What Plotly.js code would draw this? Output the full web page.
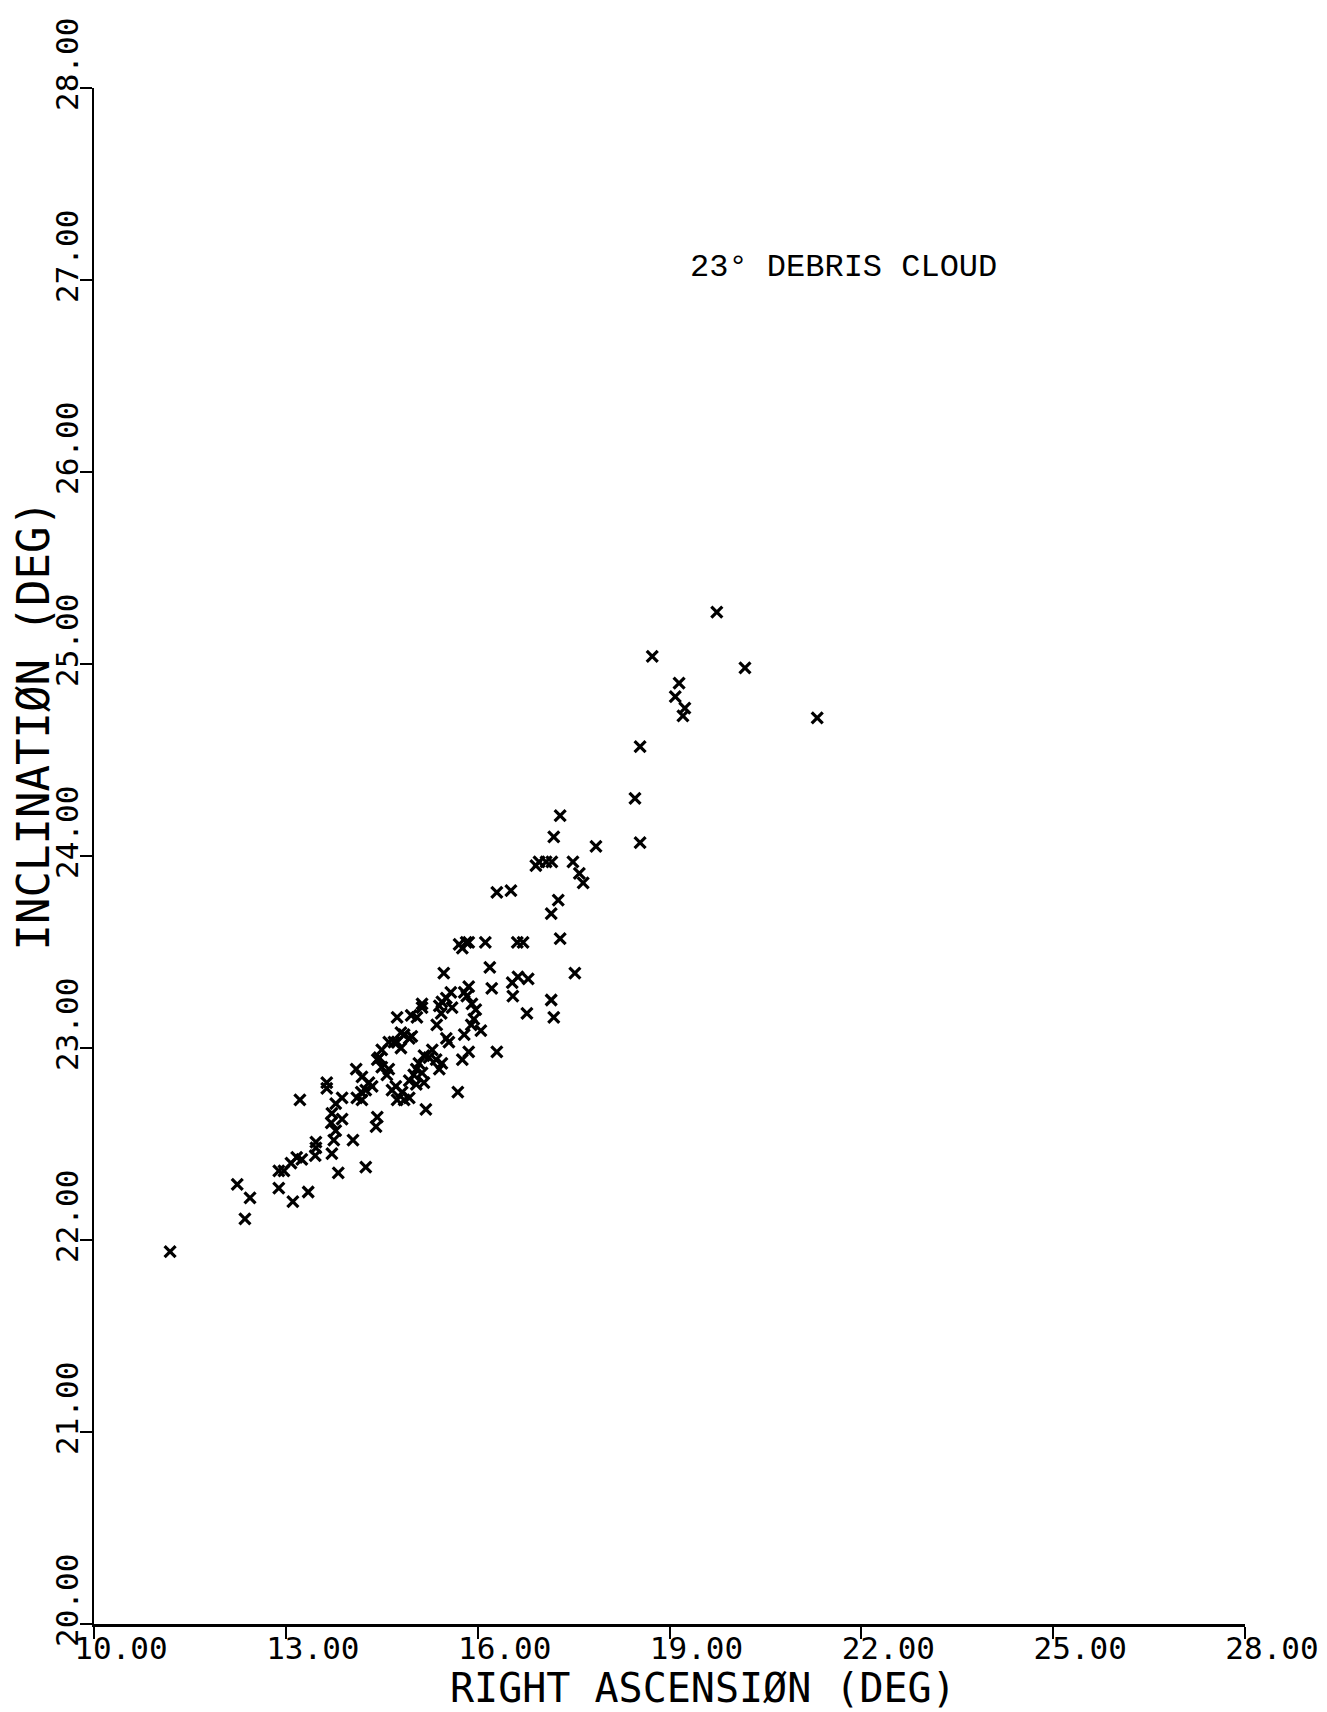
<!DOCTYPE html>
<html>
<head>
<meta charset="utf-8">
<script src="https://cdn.plot.ly/plotly-3.0.1.min.js"></script>
<style>
  html, body { margin: 0; padding: 0; background: #ffffff; }
  #chart { width: 1327px; height: 1712px; }
</style>
</head>
<body>
<div id="chart"></div>
<script>
// Right ascension (deg) of each debris piece
const rightAscension = [
  11.19, 12.24, 12.44, 12.36, 12.89, 13.11, 13.35, 12.89, 12.97, 13.08,
  13.17, 13.25, 13.46, 13.47, 13.47, 13.72, 13.82, 14.25, 13.22, 13.64,
  13.64, 13.72, 13.71, 13.78, 13.88, 13.75, 14.05, 14.41, 14.43, 15.19,
  15.69, 15.47, 16.19, 16.22, 16.54, 16.63, 16.79, 16.55, 16.77, 17.15,
  17.19, 15.86, 15.79, 15.83, 15.91, 15.97, 15.94, 16.05, 15.90, 15.58,
  15.44, 15.51, 15.60, 15.40, 15.43, 15.36, 15.13, 15.13, 15.05, 14.96,
  14.74, 15.79, 15.51, 15.55, 15.86, 15.76, 16.30, 15.29, 15.35, 15.44,
  15.24, 15.40, 15.16, 14.93, 14.85, 14.80, 14.97, 14.69, 14.61, 14.50,
  14.46, 14.43, 14.74, 14.80, 15.08, 15.04, 15.13, 15.00, 14.93, 15.04,
  15.16, 14.82, 14.74, 14.85, 14.93, 14.72, 14.66, 14.50, 14.58, 14.61,
  14.10, 14.19, 14.30, 14.35, 14.25, 14.18, 14.11, 14.19, 13.88, 13.78,
  17.29, 15.71, 15.82, 15.86, 15.76, 16.12, 16.62, 16.71, 17.52, 17.59,
  17.65, 16.30, 16.52, 17.26, 17.15, 16.91, 16.96, 17.07, 17.16, 17.49,
  17.29, 17.19, 17.85, 18.46, 18.54, 18.54, 18.73, 19.74, 20.18, 19.15,
  19.09, 19.24, 19.21, 21.31
];
// Inclination (deg) of each debris piece
const inclination = [
  21.94, 22.29, 22.22, 22.11, 22.27, 22.20, 22.25, 22.36, 22.36, 22.40,
  22.43, 22.42, 22.44, 22.48, 22.51, 22.45, 22.35, 22.38, 22.73, 22.82,
  22.79, 22.66, 22.61, 22.57, 22.63, 22.52, 22.52, 22.59, 22.64, 22.68,
  22.77, 23.39, 23.42, 23.31, 23.34, 23.37, 23.36, 23.27, 23.18, 23.25,
  23.16, 23.32, 23.29, 23.27, 23.23, 23.20, 23.15, 23.09, 23.12, 23.29,
  23.24, 23.26, 23.21, 23.22, 23.18, 23.12, 23.23, 23.21, 23.16, 23.17,
  23.16, 23.07, 23.05, 23.03, 22.98, 22.94, 22.98, 22.99, 22.94, 22.92,
  22.95, 22.89, 22.96, 23.05, 23.07, 23.08, 23.06, 23.03, 23.03, 22.99,
  22.95, 22.94, 23.03, 23.00, 22.92, 22.89, 22.87, 22.86, 22.83, 22.81,
  22.82, 22.77, 22.73, 22.73, 22.74, 22.80, 22.78, 22.90, 22.86, 22.89,
  22.89, 22.85, 22.82, 22.80, 22.78, 22.77, 22.74, 22.73, 22.74, 22.71,
  23.57, 23.54, 23.55, 23.55, 23.52, 23.55, 23.55, 23.55, 23.39, 23.91,
  23.86, 23.81, 23.82, 23.77, 23.70, 23.95, 23.97, 23.97, 23.97, 23.97,
  24.21, 24.10, 24.05, 24.30, 24.07, 24.57, 25.04, 25.27, 24.98, 24.90,
  24.83, 24.77, 24.73, 24.72
];

const xTickVals = [10, 13, 16, 19, 22, 25, 28];
const xTickText = ["10.00", "13.00", "16.00", "19.00", "22.00", "25.00", "28.00"];
const yTickVals = [20, 21, 22, 23, 24, 25, 26, 27, 28];
const yTickText = ["20.00", "21.00", "22.00", "23.00", "24.00", "25.00", "26.00", "27.00", "28.00"];

const xTitle = "RIGHT ASCENSIØN (DEG)";
const yTitle = "INCLINATIØN (DEG)";
const cloudLabel = "23° DEBRIS CLOUD";

const plotFont = "DejaVu Sans Mono, monospace";

const trace = {
  type: "scatter",
  mode: "markers",
  x: rightAscension,
  y: inclination,
  marker: {
    symbol: "x-thin",
    size: 11,
    color: "#000000",
    line: { width: 3.2, color: "#000000" }
  },
  hoverinfo: "x+y",
  showlegend: false
};

const layout = {
  width: 1327,
  height: 1712,
  margin: { l: 94, r: 82, t: 88, b: 88 },
  paper_bgcolor: "#ffffff",
  plot_bgcolor: "#ffffff",
  showlegend: false,
  font: { family: plotFont, size: 31, color: "#000000" },
  xaxis: {
    range: [10, 28],
    tickmode: "array",
    tickvals: xTickVals,
    ticktext: xTickText,
    ticks: "outside",
    ticklen: 12,
    tickwidth: 2,
    tickcolor: "#000000",
    showline: true,
    linewidth: 2.5,
    linecolor: "#000000",
    showgrid: false,
    zeroline: false,
    ticklabelshift: 27,
    ticklabelstandoff: -17,
    tickfont: { family: plotFont, size: 31, color: "#000000" }
  },
  yaxis: {
    range: [20, 28],
    tickmode: "array",
    tickvals: yTickVals,
    ticktext: yTickText,
    ticks: "outside",
    ticklen: 12,
    tickwidth: 2,
    tickcolor: "#000000",
    showline: true,
    linewidth: 2.5,
    linecolor: "#000000",
    showgrid: false,
    zeroline: false,
    tickangle: -90,
    ticklabelshift: -19,
    ticklabelstandoff: -11,
    tickfont: { family: plotFont, size: 31, color: "#000000" }
  },
  annotations: [
    {
      text: cloudLabel,
      xref: "paper", yref: "paper",
      x: 0.651, y: 0.883,
      xanchor: "center", yanchor: "middle",
      showarrow: false,
      font: { family: "Liberation Mono, Courier New, monospace", size: 32, color: "#000000" }
    },
    {
      text: xTitle,
      xref: "paper", yref: "paper",
      x: 0.529, y: -0.0418,
      xanchor: "center", yanchor: "middle",
      showarrow: false,
      font: { family: plotFont, size: 40, color: "#000000" }
    },
    {
      text: yTitle,
      xref: "paper", yref: "paper",
      x: -0.053, y: 0.585,
      xanchor: "center", yanchor: "middle",
      textangle: -90,
      showarrow: false,
      font: { family: plotFont, size: 44, color: "#000000" }
    }
  ]
};

Plotly.newPlot("chart", [trace], layout, { displayModeBar: false, staticPlot: true });
</script>
</body>
</html>
